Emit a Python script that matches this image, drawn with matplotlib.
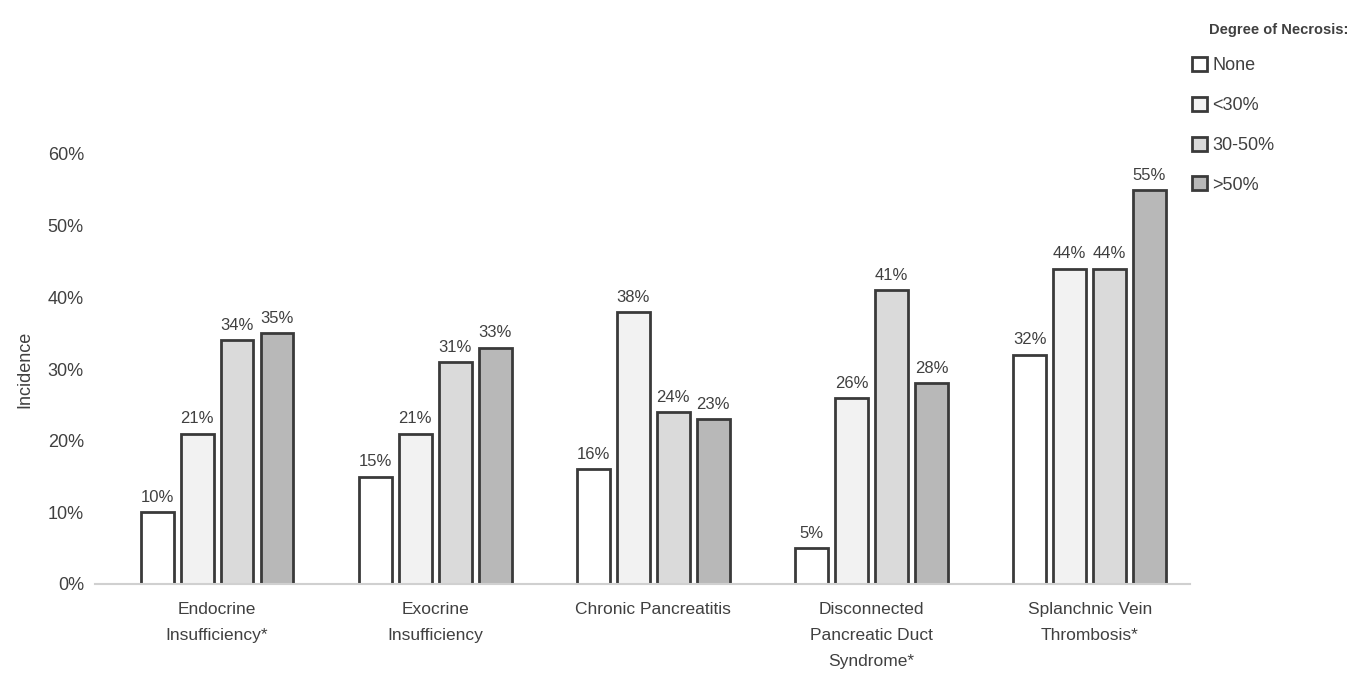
import matplotlib.pyplot as plt
import numpy as np
from matplotlib.ticker import PercentFormatter

categories = ["Endocrine\nInsufficiency*", "Exocrine\nInsufficiency", "Chronic Pancreatitis",
              "Disconnected\nPancreatic Duct\nSyndrome*", "Splanchnic Vein\nThrombosis*"]
series_names = ["None", "<30%", "30-50%", ">50%"]
none_vals = [10, 15, 16, 5, 32]
lt30_vals = [21, 21, 38, 26, 44]
mid_vals = [34, 31, 24, 41, 44]
gt50_vals = [35, 33, 23, 28, 55]
colors = ["#ffffff", "#f2f2f2", "#dadada", "#b8b8b8"]

plt.rcParams['font.family'] = ['Liberation Sans', 'DejaVu Sans']

fig = plt.figure(figsize=(13.55, 6.79), dpi=100)
ax = fig.add_axes([95 / 1355, 1 - 584 / 679, 1095 / 1355, 430 / 679])

x = np.arange(len(categories))
width = 0.15
pitch = 0.183
for i, (vals, name) in enumerate(zip([none_vals, lt30_vals, mid_vals, gt50_vals], series_names)):
    pos = x + (i - 1.5) * pitch
    bars = ax.bar(pos, vals, width, color=colors[i], edgecolor="#3a3a3a", linewidth=2, label=name)
    for b, v in zip(bars, vals):
        ax.text(b.get_x() + b.get_width() / 2, v + 1.0, f"{v}%", ha="center", va="bottom",
                fontsize=12, color="#404040")

ax.set_ylim(0, 60)
ax.set_xlim(-0.56, 4.46)
ax.set_yticks(range(0, 61, 10))
ax.yaxis.set_major_formatter(PercentFormatter(decimals=0))
ax.set_xticks(x)
ax.set_xticklabels(categories, fontsize=12.5, color="#404040", linespacing=1.9)
ax.tick_params(axis="y", labelsize=13, colors="#404040", length=0, pad=8)
ax.tick_params(axis="x", length=0, pad=13)
ax.set_ylabel("Incidence", fontsize=13, color="#404040", labelpad=10)
for s in ["top", "right", "left"]:
    ax.spines[s].set_visible(False)
ax.spines["bottom"].set_color("#d0d0d0")
ax.spines["bottom"].set_linewidth(1.5)

fig.text(1348 / 1355, 1 - 30 / 679, "Degree of Necrosis:", ha="right", va="center",
         fontsize=10.5, fontweight="bold", color="#404040")
leg = fig.legend(loc="upper left", bbox_to_anchor=(1185 / 1355, 1 - 50 / 679), frameon=False,
                 fontsize=13, handlelength=0.8, handleheight=0.8, handletextpad=0.3,
                 labelspacing=1.25, borderaxespad=0)
for t in leg.get_texts():
    t.set_color("#404040")

fig.savefig("out.png", dpi=100)
